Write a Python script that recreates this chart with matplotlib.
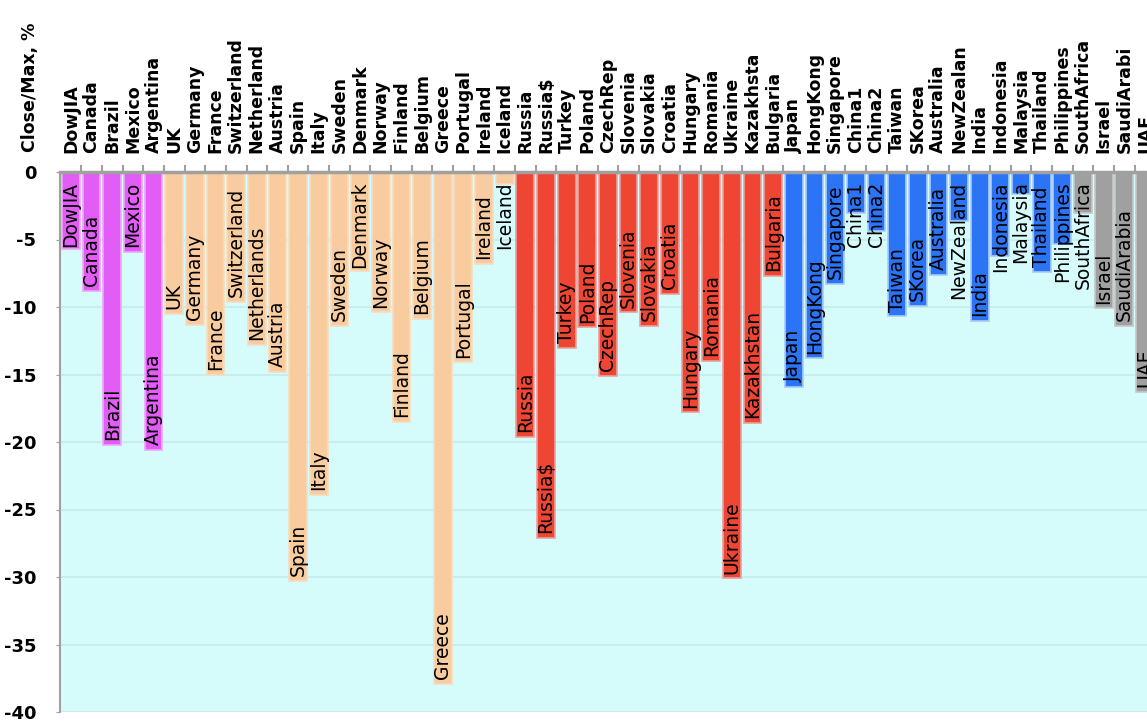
import matplotlib.pyplot as plt
import numpy as np

plt.rcParams['font.family'] = ['DejaVu Sans']

# bar labels (inside the bars) and the header labels above the chart
countries = ['DowJIA', 'Canada', 'Brazil', 'Mexico', 'Argentina',
             'UK', 'Germany', 'France', 'Switzerland', 'Netherlands', 'Austria',
             'Spain', 'Italy', 'Sweden', 'Denmark', 'Norway', 'Finland', 'Belgium',
             'Greece', 'Portugal', 'Ireland', 'Iceland',
             'Russia', 'Russia$', 'Turkey', 'Poland', 'CzechRep', 'Slovenia',
             'Slovakia', 'Croatia', 'Hungary', 'Romania', 'Ukraine', 'Kazakhstan',
             'Bulgaria',
             'Japan', 'HongKong', 'Singapore', 'China1', 'China2', 'Taiwan',
             'SKorea', 'Australia', 'NewZealand', 'India', 'Indonesia', 'Malaysia',
             'Thailand', 'Philippines',
             'SouthAfrica', 'Israel', 'SaudiArabia', 'UAE']
header_names = countries.copy()
header_names[9] = 'Netherland'
header_names[33] = 'Kazakhsta'
header_names[43] = 'NewZealan'
header_names[51] = 'SaudiArabi'

# close / max, %
values = [-5.7, -8.8, -20.2, -5.9, -20.6,
          -10.5, -11.3, -15.0, -9.6, -12.8, -14.8,
          -30.3, -23.9, -11.4, -7.3, -10.4, -18.5, -10.9,
          -37.9, -14.1, -6.8, -0.9,
          -19.6, -27.1, -13.0, -11.5, -15.1, -10.4,
          -11.4, -9.0, -17.8, -14.0, -30.1, -18.6,
          -7.7,
          -15.9, -13.8, -8.3, -3.0, -4.4, -10.7,
          -9.9, -7.6, -3.6, -11.0, -6.2, -1.6,
          -7.4, -5.3,
          -3.0, -10.1, -11.4, -16.3]

group_sizes = [5, 17, 13, 14, 4]
group_colors = ['#E25CF6', '#F8CC9E', '#EE4632', '#2B74F6', '#A0A0A0']
edge_colors = ['#ECA8F8', '#F6DCC0', '#E8A0A0', '#A8CCF8', '#C4C8C8']

bar_colors = []
bar_edges = []
for size, c, e in zip(group_sizes, group_colors, edge_colors):
    bar_colors += [c] * size
    bar_edges += [e] * size

x = np.arange(len(countries))

fig = plt.figure(figsize=(11.47, 7.24), dpi=100)
ax = fig.add_axes([60 / 1147, 1 - 712 / 724, 1 - 60 / 1147, (712 - 172) / 724])
ax.set_facecolor('#D6FBFB')

ax.bar(x, values, width=0.86, color=bar_colors, edgecolor=bar_edges,
       linewidth=1.2, zorder=2)

ax.set_xlim(-0.53, 52.1)
ax.set_ylim(-40, 0)
ax.set_yticks(np.arange(-40, 1, 5))
ax.set_yticklabels([str(v) for v in range(-40, 1, 5)], fontsize=13,
                   fontweight='bold')
ax.tick_params(axis='y', length=3, color='#A0A0A0', pad=14)
ax.grid(axis='y', color='#C4ECEC', linewidth=1.2, zorder=0)

ax.xaxis.tick_top()
ax.set_xticks(x[:-1] + 0.5)
ax.set_xticklabels([])
ax.tick_params(axis='x', length=5, width=1.5, color='#A0A0A0')

for side in ['right', 'bottom']:
    ax.spines[side].set_visible(False)
ax.spines['top'].set_color('#A0A0A0')
ax.spines['top'].set_linewidth(2.5)
ax.spines['left'].set_color('#A0A0A0')
ax.spines['left'].set_linewidth(1.5)

# header labels above the plot
head_tr = ax.get_xaxis_transform()
for xi, name in zip(x, header_names):
    ax.text(xi, 1.035, name, transform=head_tr, rotation=90, ha='center',
            va='bottom', fontsize=12.5, fontweight='bold', clip_on=False)
fig.text(30 / 1147, 1 - 152 / 724, 'Close/Max, %', rotation=90, ha='center',
         va='bottom', fontsize=12.5, fontweight='bold')

# labels inside the bars, at the bar end, kept below the top axis
fig.canvas.draw()
renderer = fig.canvas.get_renderer()
top_limit = ax.transData.transform((0, -0.7))[1]
for xi, name, v in zip(x, countries, values):
    t = ax.text(xi, v + 0.35, name, rotation=90, ha='center', va='bottom',
                fontsize=13.5, zorder=3)
    bb = t.get_window_extent(renderer)
    if bb.y1 > top_limit:
        t.set_y(-0.7)
        t.set_va('top')

fig.savefig('out.png', dpi=100)
